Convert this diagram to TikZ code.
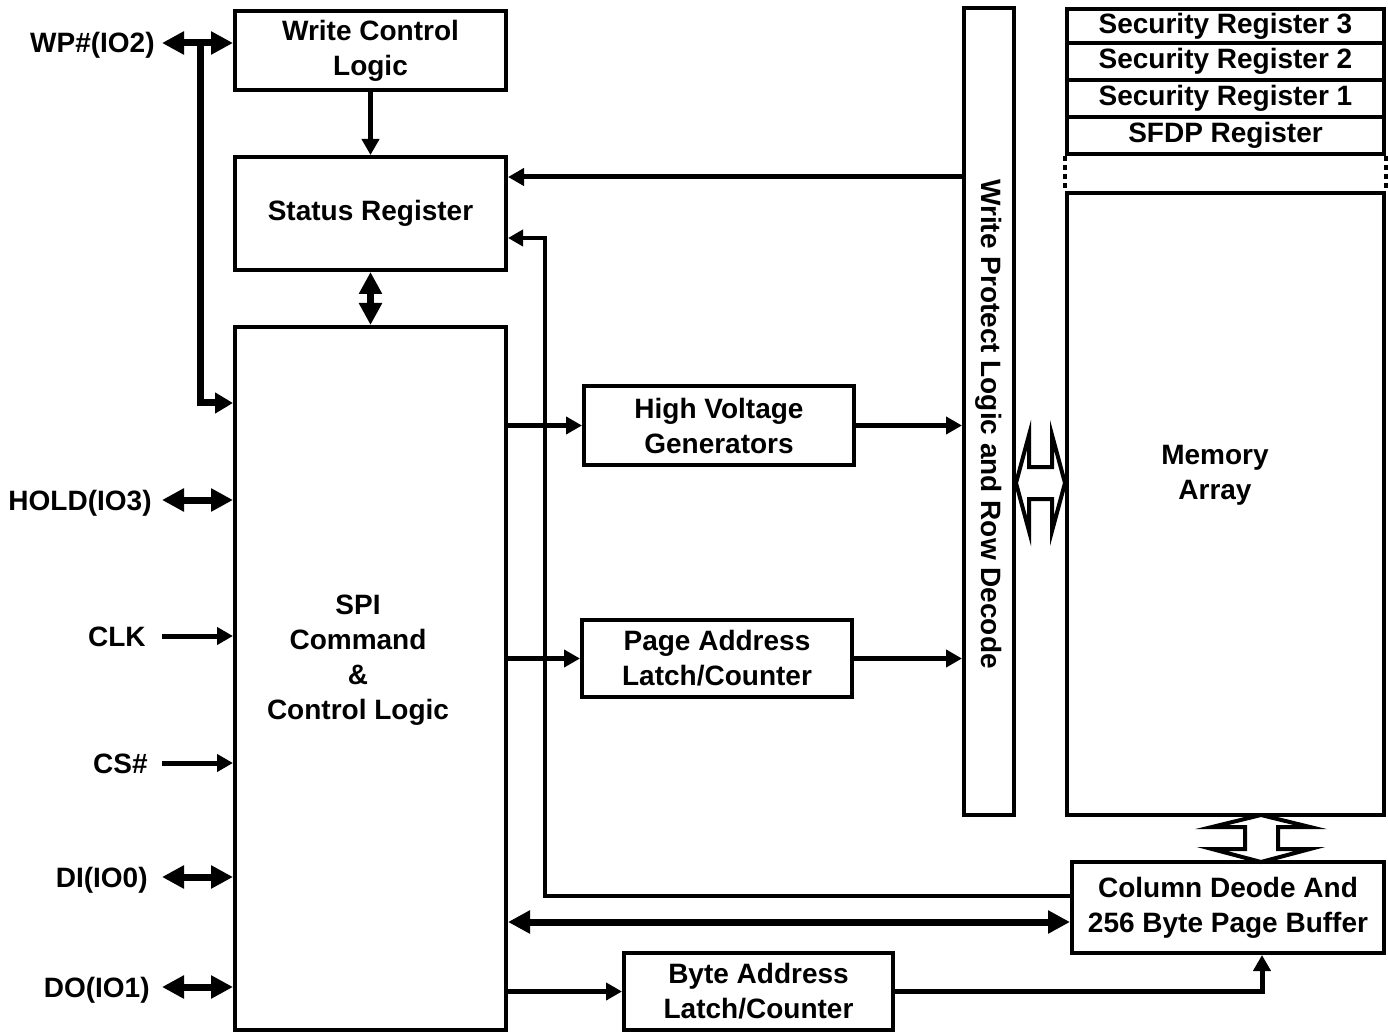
\documentclass[tikz,border=0pt]{standalone}
\usepackage{fontspec}
\setmainfont{Liberation Sans}
\usetikzlibrary{arrows.meta}

\begin{document}
\begin{tikzpicture}[x=0.5pt,y=-0.5pt,
  txt/.style={font=\bfseries\fontsize{14}{17.5}\selectfont,align=center},
  blk/.style={draw,line width=2pt,txt,inner sep=0pt},
  reg/.style={blk,minimum width=158.5pt,minimum height=18.5pt},
  pinlbl/.style={txt,anchor=east,inner sep=0pt,text height=10pt,text depth=0pt},
  sig/.style={line width=2.5pt,-{Triangle[length=8pt,width=8.5pt]}},
  fbsig/.style={line width=2pt,-{Triangle[length=7.5pt,width=8pt]}},
  bidir/.style={line width=3.5pt,{Triangle[length=11pt,width=11pt]}-{Triangle[length=11pt,width=11pt]}},
  hollow/.style={draw,line width=2pt,fill=white,line join=miter}]
\useasboundingbox (0,0) rectangle (1388,1032);

\node[blk,minimum width=135.5pt,minimum height=39.5pt] (wcl) at (370.5,50.5) {Write Control\\Logic};
\node[blk,minimum width=135.5pt,minimum height=56.5pt] (sr) at (370.5,213.5) {Status Register};
\node[blk,minimum width=135.5pt,minimum height=351.5pt] (spi) at (370.5,678.5) {};
\node[txt] (spitxt) at (358,660) {SPI\\Command\\\&\\Control Logic};
\node[blk,minimum width=135pt,minimum height=39.5pt] (hvg) at (719,425.5) {High Voltage\\Generators};
\node[blk,minimum width=135pt,minimum height=38.5pt] (pal) at (717,658.5) {Page Address\\Latch/Counter};
\node[blk,minimum width=134.5pt,minimum height=38.5pt] (bal) at (758.5,991.5) {Byte Address\\Latch/Counter};
\node[blk,minimum width=156pt,minimum height=45.5pt] (col) at (1228,907.5) {Column Deode And\\256 Byte Page Buffer};
\node[blk,minimum width=25pt,minimum height=403.5pt] (wpd) at (989,411.5) {};
\node[txt,rotate=-90] (wptxt) at (989,424) {Write Protect Logic and Row Decode};

\node[reg,minimum height=17pt] (sr3) at (1225.5,26) {Security Register 3};
\node[reg] (sr2) at (1225.5,61.5) {Security Register 2};
\node[reg] (sr1) at (1225.5,98.5) {Security Register 1};
\node[reg] (sfdp) at (1225.5,135.5) {SFDP Register};
\node[blk,minimum width=158.5pt,minimum height=311pt] (mem) at (1225.5,504) {};
\node[txt] (memtxt) at (1215,475) {Memory\\Array};
\draw[line width=2pt,dash pattern=on 2.5pt off 2pt] (sfdp.south west) -- (mem.north west);
\draw[line width=2pt,dash pattern=on 2.5pt off 2pt] (sfdp.south east) -- (mem.north east);

\node[pinlbl] (wp) at (155,43) {WP\#(IO2)};
\node[pinlbl] (hold) at (152,500) {HOLD(IO3)};
\node[pinlbl] (clk) at (146,636) {CLK};
\node[pinlbl] (cs) at (148,763) {CS\#};
\node[pinlbl] (di) at (148,877) {DI(IO0)};
\node[pinlbl] (do) at (150,987) {DO(IO1)};
\coordinate (pin) at (162,0);
\coordinate (wpj) at (200,0);

\draw[bidir] (pin |- wp) -- (wcl.west |- wp);
\draw[line width=3.5pt,-{Triangle[length=9pt,width=10pt]}] (wpj |- wp) |- ([yshift=-39pt]spi.north west);
\draw[bidir] (pin |- hold) -- (spi.west |- hold);
\draw[sig] (pin |- clk) -- (spi.west |- clk);
\draw[sig] (pin |- cs) -- (spi.west |- cs);
\draw[bidir] (pin |- di) -- (spi.west |- di);
\draw[bidir] (pin |- do) -- (spi.west |- do);

\draw[sig] (wcl.south) -- (sr.north);
\draw[bidir] (sr.south) -- (spi.north);
\draw[sig] (spi.east |- hvg) -- (hvg.west);
\draw[sig] (hvg.east) -- (wpd.west |- hvg.east);
\draw[sig] (spi.east |- pal) -- (pal.west);
\draw[sig] (pal.east) -- (wpd.west |- pal.east);

\coordinate (srin) at ([yshift=18.25pt]sr.east);
\draw[sig] (srin -| wpd.west) -- (srin);
\coordinate (srfb) at ([yshift=-12.25pt]sr.east);
\coordinate (colfb) at ([yshift=5.75pt]col.west);
\draw[fbsig] (colfb) -| ([xshift=18.5pt]srfb) -- (srfb);
\coordinate (colbus) at ([yshift=-7.25pt]col.west);
\draw[bidir] (spi.east |- colbus) -- (colbus);
\draw[sig] (spi.east |- bal) -- (bal.west);
\draw[sig] (bal.east) -| ([xshift=17pt]col.south);

\draw[hollow] (1016,483) -- (1029,435) -- (1029,467) -- (1052,467) -- (1052,435) -- (1065,483)
  -- (1052,531) -- (1052,499) -- (1029,499) -- (1029,531) -- cycle;
\draw[hollow] (1261,815) -- (1310,827) -- (1278,827) -- (1278,849) -- (1310,849) -- (1261,862)
  -- (1212,849) -- (1245,849) -- (1245,827) -- (1212,827) -- cycle;
\end{tikzpicture}
\end{document}
